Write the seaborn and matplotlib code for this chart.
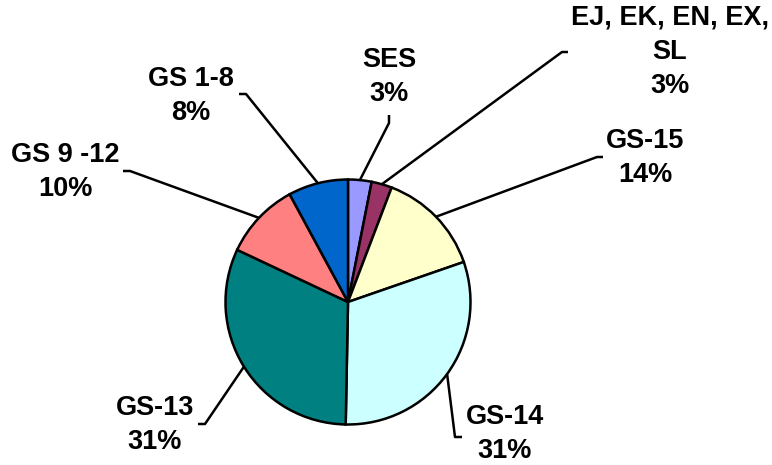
import numpy as np
import matplotlib
matplotlib.use("Agg")
import matplotlib.pyplot as plt
import seaborn as sns

# ---- data ----
categories = ["SES", "EJ, EK, EN, EX,\nSL", "GS-15", "GS-14", "GS-13", "GS 9 -12", "GS 1-8"]
values = [3.1, 2.7, 13.9, 30.6, 31.7, 10.1, 7.9]
pct_labels = ["3%", "3%", "14%", "31%", "31%", "10%", "8%"]
colors = ["#9999FF", "#993366", "#FFFFCC", "#CCFFFF", "#008080", "#FF8080", "#0066CC"]

# ---- layout (pixels) ----
W, H = 772, 465
CX, CY, R = 348, 302, 122.5
label_pos = [(389, 77), (670, 52), (645, 158), (505, 434), (155, 425), (65, 172), (191, 96)]
elbows = [
    [(389, 123), (389, 115)],
    [(562, 52), (568, 52)],
    [(597, 157), (603, 157)],
    [(455, 437), (462, 437)],
    [(205, 424), (198, 424)],
    [(130, 171), (123, 171)],
    [(246, 94), (239, 94)],
]

sns.set_theme(style="white")
plt.rcParams["font.family"] = ["Liberation Sans", "DejaVu Sans"]

fig = plt.figure(figsize=(W / 100, H / 100), dpi=100)
ax = fig.add_axes([0, 0, 1, 1])


def px(p):
    return ((p[0] - CX) / R, (CY - p[1]) / R)


wedges, _ = ax.pie(values, colors=colors, startangle=90, counterclock=False,
                   radius=1, center=(0, 0),
                   wedgeprops=dict(edgecolor="black", linewidth=1.8))
ax.set_xlim(-CX / R, (W - CX) / R)
ax.set_ylim(-(H - CY) / R, CY / R)
ax.set_aspect("equal")
ax.axis("off")

total = sum(values)
cum = 0.0
for i, v in enumerate(values):
    mid = (cum + v / 2) / total * 360.0
    cum += v
    ang = np.deg2rad(90 - mid)
    sx, sy = np.cos(ang), np.sin(ang)
    pts = [(sx, sy)] + [px(p) for p in elbows[i]]
    xs = [p[0] for p in pts]
    ys = [p[1] for p in pts]
    ax.plot(xs, ys, color="black", linewidth=1.8, solid_capstyle="butt")
    tx, ty = px(label_pos[i])
    ax.text(tx, ty, f"{categories[i]}\n{pct_labels[i]}", ha="center", va="center",
            multialignment="center", fontsize=19.5, fontweight="bold", color="black",
            linespacing=1.42)

fig.savefig("out.png", dpi=100, facecolor="white")
